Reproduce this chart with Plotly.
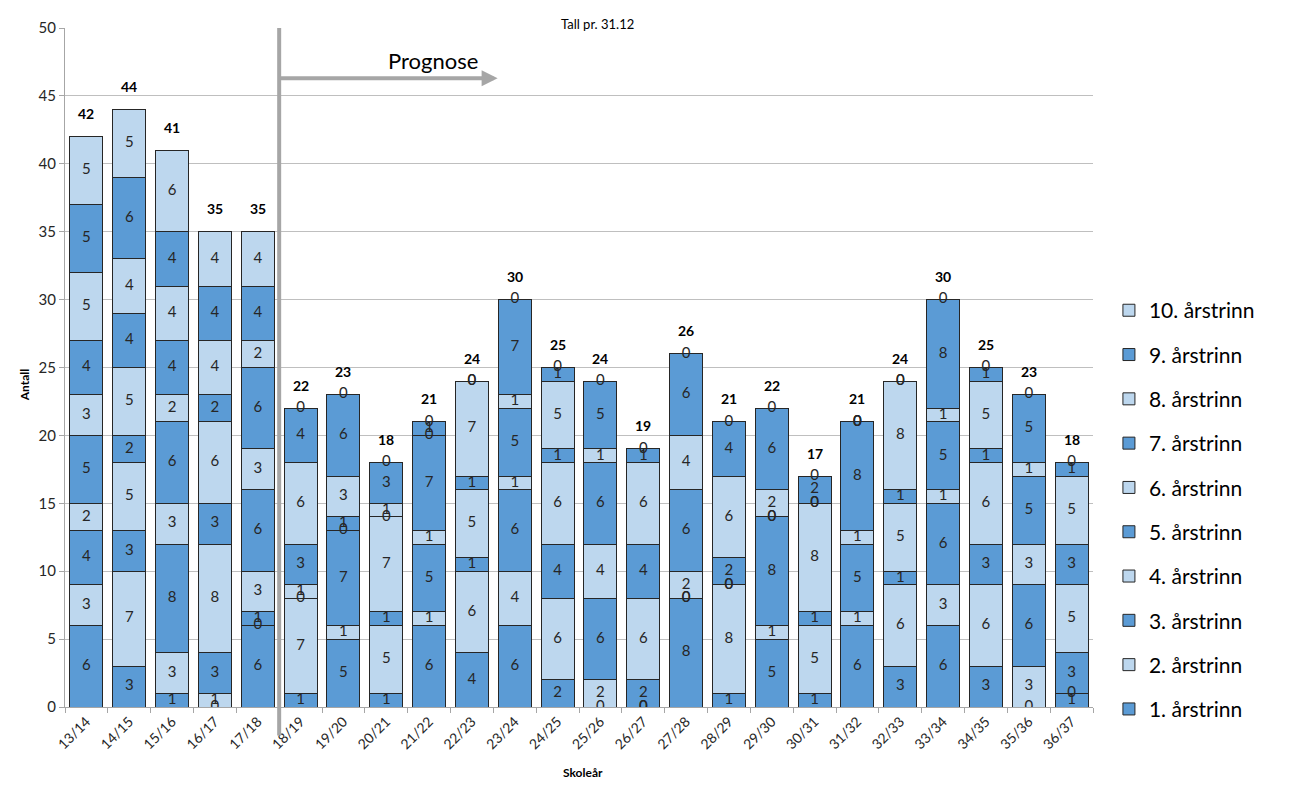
import plotly.graph_objects as go

categories = ["13/14", "14/15", "15/16", "16/17", "17/18", "18/19", "19/20", "20/21",
              "21/22", "22/23", "23/24", "24/25", "25/26", "26/27", "27/28", "28/29",
              "29/30", "30/31", "31/32", "32/33", "33/34", "34/35", "35/36", "36/37"]

g1 = [6, 3, 1, 0, 6, 1, 5, 1, 6, 4, 6, 2, 0, 0, 8, 1, 5, 1, 6, 3, 6, 3, 0, 1]
g2 = [3, 7, 3, 1, 0, 7, 1, 5, 1, 6, 4, 6, 2, 0, 0, 8, 1, 5, 1, 6, 3, 6, 3, 0]
g3 = [4, 3, 8, 3, 1, 0, 7, 1, 5, 1, 6, 4, 6, 2, 0, 0, 8, 1, 5, 1, 6, 3, 6, 3]
g4 = [2, 5, 3, 8, 3, 1, 0, 7, 1, 5, 1, 6, 4, 6, 2, 0, 0, 8, 1, 5, 1, 6, 3, 5]
g5 = [5, 2, 6, 3, 6, 3, 1, 0, 7, 1, 5, 1, 6, 4, 6, 2, 0, 0, 8, 1, 5, 1, 5, 3]
g6 = [3, 5, 2, 6, 3, 6, 3, 1, 0, 7, 1, 5, 1, 6, 4, 6, 2, 0, 0, 8, 1, 5, 1, 5]
g7 = [4, 4, 4, 2, 6, 4, 6, 3, 1, 0, 7, 1, 5, 1, 6, 4, 6, 2, 0, 0, 8, 1, 5, 1]
g8 = [5, 4, 4, 4, 2] + [0] * 19
g9 = [5, 6, 4, 4, 4] + [None] * 19
g10 = [5, 5, 6, 4, 4] + [None] * 19

series = [g1, g2, g3, g4, g5, g6, g7, g8, g9, g10]
series_names = [f"{i}. årstrinn" for i in range(1, 11)]
first_forecast = "18/19"

DARK = "#5B9BD5"
LIGHT = "#BDD7EE"
FONT = "Lato"

fig = go.Figure()
for i, (vals, name) in enumerate(zip(series, series_names)):
    fig.add_trace(go.Bar(
        x=categories, y=vals, name=name,
        marker=dict(color=DARK if i % 2 == 0 else LIGHT,
                    line=dict(color="#262626", width=1)),
        legendgroup=name, legendrank=100 - i, hoverinfo="skip",
    ))

# segment labels
lx, ly, lt = [], [], []
totals = []
for j, c in enumerate(categories):
    base = 0
    for vals in series:
        v = vals[j]
        if v is None:
            continue
        lx.append(c)
        ly.append(base + v / 2)
        lt.append(str(v))
        base += v
    totals.append(base)

fig.add_trace(go.Scatter(
    x=lx, y=ly, text=lt, mode="text", showlegend=False, hoverinfo="skip",
    textfont=dict(family=FONT, size=15, color="#262626"),
))

for c, t in zip(categories, totals):
    fig.add_annotation(x=c, y=t, text=f"<b>{t}</b>", showarrow=False,
                       yshift=23, font=dict(family=FONT, size=14, color="#000000"))

split = categories.index(first_forecast) - 0.5
fig.add_shape(type="line", xref="x", yref="paper", x0=split, x1=split,
              y0=-0.042, y1=1.0, line=dict(color="#A6A6A6", width=4))

fig.add_annotation(x=split + 5.1, y=46.3, ax=split, ay=46.3, axref="x", ayref="y",
                   xref="x", yref="y", showarrow=True, arrowhead=2, arrowsize=0.8,
                   arrowwidth=4, arrowcolor="#A6A6A6", text="")
fig.add_annotation(x=split + 3.6, y=47.6, text="Prognose", showarrow=False,
                   font=dict(family=FONT, size=22, color="#000000"))

fig.add_annotation(xref="paper", yref="paper", x=0.518, y=1.0206, text="Tall pr. 31.12",
                   showarrow=False, font=dict(family=FONT, size=13, color="#000000"))
fig.add_annotation(xref="paper", yref="paper", x=0.504, y=-0.110, text="<b>Skoleår</b>",
                   showarrow=False, font=dict(family=FONT, size=12, color="#000000"))
fig.add_annotation(xref="paper", yref="paper", x=-0.049, y=0.474, text="<b>Antall</b>",
                   showarrow=False, textangle=-90, font=dict(family=FONT, size=12, color="#000000"))

fig.update_layout(
    width=1298, height=791,
    margin=dict(l=65, r=205, t=28, b=84, autoexpand=False),
    barmode="stack", bargap=0.23,
    plot_bgcolor="white", paper_bgcolor="white",
    font=dict(family=FONT, color="#262626"),
    legend=dict(x=1.0155, xanchor="left", y=0.29, yanchor="middle",
                traceorder="grouped", tracegroupgap=14,
                font=dict(family=FONT, size=21, color="#000000")),
    xaxis=dict(type="category", range=[-0.5, len(categories) - 0.5],
               tickangle=-45, ticks="outside", tickson="boundaries",
               ticklen=5, tickcolor="#A6A6A6", showline=True, linecolor="#A6A6A6",
               tickfont=dict(family=FONT, size=14, color="#262626"), showgrid=False),
    yaxis=dict(range=[0, 50], dtick=5, ticks="outside", ticklen=5, tickcolor="#A6A6A6",
               showline=True, linecolor="#A6A6A6", gridcolor="#BFBFBF", zeroline=False,
               tickfont=dict(family=FONT, size=15, color="#262626")),
)

fig.write_html("out.html", config={"displayModeBar": False},
               post_script="document.body.style.margin='0';")
